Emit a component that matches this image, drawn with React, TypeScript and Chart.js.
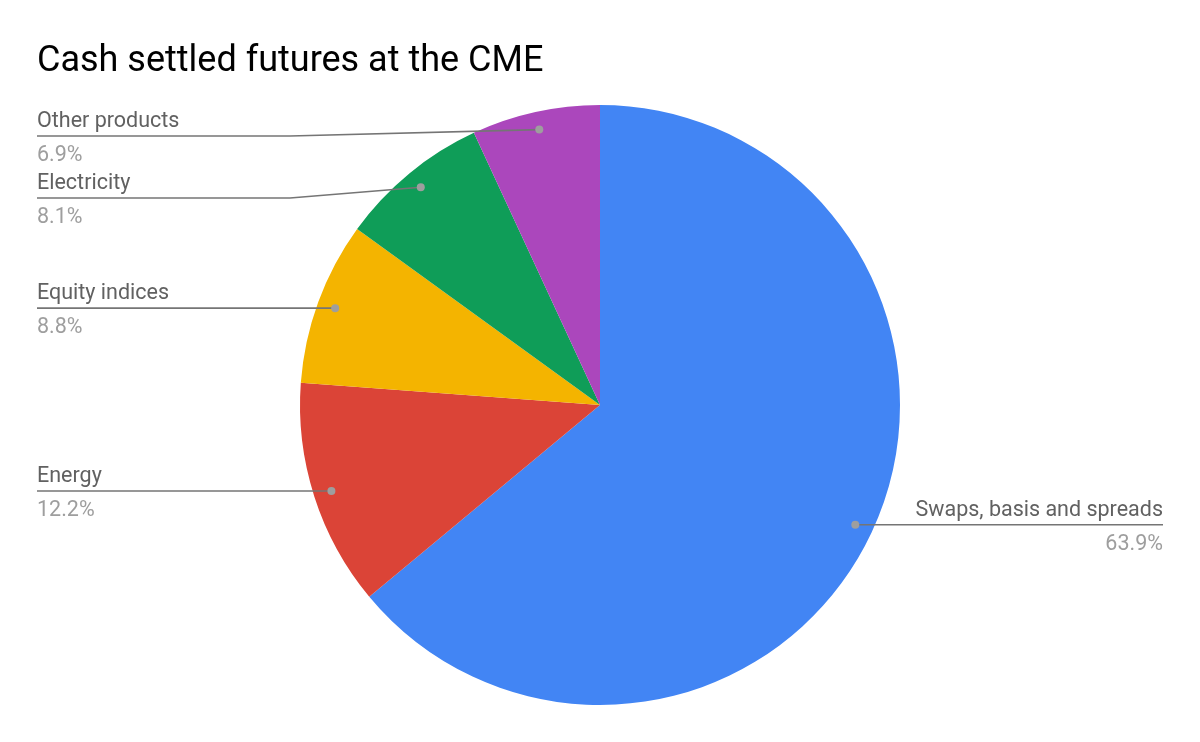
import React, { useEffect, useRef } from "react";
import { Chart, registerables } from "chart.js";

Chart.register(...registerables);

const titleText = "Cash settled futures at the CME";
const categories = ["Swaps, basis and spreads", "Energy", "Equity indices", "Electricity", "Other products"];
const shares = [63.9, 12.2, 8.8, 8.1, 6.9];
const sliceColors = ["#4285F4", "#DB4437", "#F4B400", "#0F9D58", "#AB47BC"];

const labelPlugin = {
  id: "leaderLabels",
  afterDraw(chart: any) {
    const ctx = chart.ctx as CanvasRenderingContext2D;
    const meta = chart.getDatasetMeta(0);
    ctx.save();
    // title
    ctx.fillStyle = "#000";
    ctx.font = "36px Roboto";
    ctx.textAlign = "left";
    ctx.textBaseline = "alphabetic";
    ctx.fillText(titleText, 37, 71);

    const items: any[] = meta.data.map((arc: any, i: number) => {
      const mid = (arc.startAngle + arc.endAngle) / 2;
      const r = arc.outerRadius * 0.94;
      const dx = arc.x + Math.cos(mid) * r;
      const dy = arc.y + Math.sin(mid) * r;
      return { i, dx, dy, left: dx < arc.x };
    });
    const leftItems = items.filter((d) => d.left).sort((a, b) => a.dy - b.dy);
    const rightItems = items.filter((d) => !d.left).sort((a, b) => a.dy - b.dy);
    let prev = -Infinity;
    leftItems.forEach((d) => {
      d.ly = Math.max(d.dy, prev + 62, 136);
      prev = d.ly;
    });
    prev = -Infinity;
    rightItems.forEach((d) => {
      d.ly = Math.max(d.dy, prev + 62, 136);
      prev = d.ly;
    });

    const drawItem = (d: any) => {
      const edge = d.left ? 37 : 1163;
      ctx.strokeStyle = "#757575";
      ctx.lineWidth = 1.6;
      ctx.beginPath();
      ctx.moveTo(d.dx, d.dy);
      if (Math.abs(d.ly - d.dy) > 1) {
        const elbow = d.left ? 290 : 910;
        ctx.lineTo(elbow, d.ly);
        ctx.lineTo(edge, d.ly);
      } else {
        ctx.lineTo(edge, d.dy);
        d.ly = d.dy;
      }
      ctx.stroke();
      ctx.fillStyle = "#9e9e9e";
      ctx.beginPath();
      ctx.arc(d.dx, d.dy, 4, 0, Math.PI * 2);
      ctx.fill();
      ctx.textAlign = d.left ? "left" : "right";
      ctx.font = "21.5px Roboto";
      ctx.fillStyle = "#616161";
      ctx.fillText(categories[d.i], edge, d.ly - 9);
      ctx.fillStyle = "#9e9e9e";
      ctx.fillText(shares[d.i].toFixed(1) + "%", edge, d.ly + 25);
    };
    leftItems.forEach(drawItem);
    rightItems.forEach(drawItem);
    ctx.restore();
  },
};

export default function App() {
  const ref = useRef<HTMLCanvasElement | null>(null);
  useEffect(() => {
    document.body.style.margin = "0";
    if (!ref.current) return;
    const chart = new Chart(ref.current, {
      type: "pie",
      data: {
        labels: categories,
        datasets: [
          {
            data: shares,
            backgroundColor: sliceColors,
            borderColor: "#ffffff",
            borderWidth: 0,
          },
        ],
      },
      options: {
        responsive: false,
        animation: false,
        layout: { padding: { top: 105, bottom: 37, left: 0, right: 0 } },
        plugins: {
          legend: { display: false },
          tooltip: { enabled: false },
          title: { display: false },
        },
      },
      plugins: [labelPlugin],
    });
    return () => chart.destroy();
  }, []);
  return (
    <div style={{ width: 1200, height: 742, background: "#fff" }}>
      <canvas ref={ref} width={1200} height={742} />
    </div>
  );
}
